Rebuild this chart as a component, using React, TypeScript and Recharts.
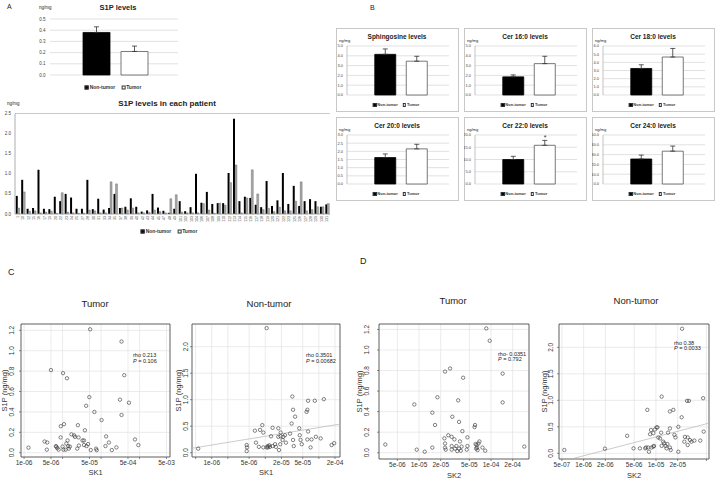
import React from 'react';
import {
  BarChart, Bar, Cell, XAxis, YAxis, CartesianGrid, ErrorBar, ReferenceDot,
  ReferenceLine, ReferenceArea, ScatterChart, Scatter,
} from 'recharts';

const FONT = '"Liberation Sans", Arial, sans-serif';

const groups = ['Non-tumor', 'Tumor'];

// A, top: mean S1P
const s1pMean = [0.38, 0.21];
const s1pSem = [0.05, 0.048];
const s1pTicks = [0, 0.1, 0.2, 0.3, 0.4, 0.5];

// A, bottom: S1P per patient
const patientIds = [
  '1', '10', '12', '15', '16', '17', '19', '20', '22', '23',
  '24', '25', '27', '28', '30', '31', '33', '34', '35', '37',
  '38', '39', '40', '42', '43', '44', '45', '47', '48', '49',
  '101', '102', '103', '104', '106', '107', '108', '109', '110', '112',
  '113', '114', '115', '116', '117', '118', '119', '120', '121', '122',
  '123', '125', '126', '127', '128', '129', '130', '131',
];
const patientNonTumor = [
  0.45, 0.85, 0.13, 0.15, 1.10, 0.13, 0.12, 0.43, 0.32, 0.50,
  0.41, 0.13, 0.13, 0.85, 0.12, 0.38, 0.11, 0.15, 0.50, 0.15,
  0.18, 0.39, 0.18, 0.06, 0.09, 0.50, 0.16, 0.08, 0.03, 0.13,
  0.32, 0.07, 0.17, 1.00, 0.28, 0.55, 0.25, 0.27, 0.27, 1.02,
  2.37, 0.32, 0.43, 0.40, 0.23, 0.17, 0.82, 0.20, 0.34, 1.02,
  0.25, 0.70, 0.20, 0.32, 0.37, 0.32, 0.18, 0.24,
];
const patientTumor = [
  0.15, 0.55, 0.07, 0.08, 0.03, 0.05, 0.07, 0.02, 0.53, 0.05,
  0.03, 0.02, 0.02, 0.10, 0.08, 0.03, 0.03, 0.80, 0.75, 0.15,
  0.10, 0.15, 0.03, 0.03, 0.04, 0.10, 0.06, 0.03, 0.38, 0.48,
  0.05, 0.03, 0.03, 0.03, 0.26, 0.10, 0.02, 0.27, 0.22, 0.78,
  1.22, 0.03, 0.40, 1.10, 0.50, 0.11, 0.14, 0.06, 0.17, 0.08,
  0.08, 0.32, 0.80, 0.08, 0.11, 0.18, 0.18, 0.26,
];
const patientTicks = [0, 0.5, 1, 1.5, 2, 2.5];

// B: sphingolipid means
const lipidTitles = ['Sphingosine levels', 'Cer 16:0 levels', 'Cer 18:0 levels', 'Cer 20:0 levels', 'Cer 22:0 levels', 'Cer 24:0 levels'];
const lipidMeans = [[4.15, 3.45], [1.85, 3.2], [3.25, 4.65], [1.62, 2.15], [10.0, 15.8], [25.5, 33.5]];
const lipidSems = [[0.55, 0.5], [0.2, 0.75], [0.45, 1.05], [0.22, 0.28], [1.3, 2.0], [4.0, 5.2]];
const lipidTicks = [
  [0, 1, 2, 3, 4, 5],
  [0, 1, 2, 3, 4, 5],
  [0, 1, 2, 3, 4, 5, 6],
  [0, 0.5, 1, 1.5, 2, 2.5, 3],
  [0, 5, 10, 15, 20],
  [0, 10, 20, 30, 40, 50],
];
const lipidSig = [false, false, false, false, true, false];

// C: SK1 vs S1P
const sk1Tumor = [
  1.3e-6, 3.4e-6, 4.0e-6, 3.9e-6, 5.0e-6, 6.7e-6, 6.9e-6, 7.3e-6, 7.9e-6, 8.9e-6,
  9.0e-6, 1.0e-5, 1.03e-5, 1.3e-5, 1.09e-5, 1.05e-5, 1.2e-5, 1.25e-5, 1.35e-5, 1.4e-5,
  1.45e-5, 1.55e-5, 1.7e-5, 2.0e-5, 2.1e-5, 2.5e-5, 2.6e-5, 2.4e-5, 2.65e-5, 3.3e-5,
  3.6e-5, 3.8e-5, 4.1e-5, 3.6e-5, 4.2e-5, 4.6e-5, 4.95e-5, 5.4e-5, 6.7e-5, 7.4e-5,
  7.7e-5, 1.03e-4, 1.3e-4, 1.35e-4, 1.6e-4, 1.9e-4, 2.5e-4, 3.1e-4, 3.4e-4, 3.4e-4,
  5.2e-5, 4.0e-4, 5.3e-4, 7.6e-4, 9.3e-4,
];
const s1pTumorC = [
  0.05, 0.11, 0.10, 0.03, 0.81, 0.065, 0.058, 0.045, 0.03, 0.15,
  0.26, 0.06, 0.78, 0.73, 0.28, 0.03, 0.03, 0.09, 0.12, 0.065,
  0.04, 0.06, 0.18, 0.17, 0.155, 0.27, 0.15, 0.04, 0.07, 0.12,
  0.12, 0.22, 0.46, 0.075, 0.065, 0.085, 0.545, 0.026, 0.40, 0.04,
  0.025, 0.32, 0.065, 0.16, 0.10, 0.026, 0.052, 0.52, 0.37, 1.09,
  1.21, 0.76, 0.49, 0.13, 0.075,
];
const sk1NonTumor = [
  5.6e-7, 4.5e-6, 4.55e-6, 4.5e-6, 6.4e-6, 6.7e-6, 8.0e-6, 8.8e-6, 9.2e-6, 7.6e-6,
  9.2e-6, 1.06e-5, 1.11e-5, 1.12e-5, 1.19e-5, 1.22e-5, 1.28e-5, 1.37e-5, 1.37e-5, 1.52e-5,
  1.58e-5, 1.75e-5, 1.75e-5, 1.94e-5, 1.92e-5, 1.9e-5, 1.8e-5, 2.1e-5, 2.17e-5, 2.33e-5,
  2.43e-5, 2.9e-5, 3.1e-5, 3.2e-5, 3.3e-5, 3.6e-5, 3.3e-5, 3.4e-5, 4.3e-5, 4.4e-5,
  4.55e-5, 4.8e-5, 5.9e-5, 6.1e-5, 6.3e-5, 6.1e-5, 6.3e-5, 7.0e-5, 7.3e-5, 8.4e-5,
  8.8e-5, 1.08e-4, 1.24e-4, 1.73e-4, 1.93e-4, 1.06e-5,
];
const s1pNonTumorC = [
  0.076, 0.145, 0.10, 0.03, 0.415, 0.19, 0.43, 0.52, 0.38, 0.11,
  0.10, 0.10, 0.125, 0.10, 0.14, 0.11, 0.31, 0.47, 0.125, 0.16,
  0.11, 0.30, 0.46, 0.38, 0.31, 0.16, 0.05, 0.24, 0.30, 0.33,
  0.19, 0.36, 0.55, 1.06, 0.81, 0.68, 0.24, 0.125, 0.46, 0.33,
  0.24, 0.16, 0.77, 0.81, 0.98, 0.25, 0.40, 0.10, 0.25, 0.98,
  0.30, 0.27, 1.01, 0.145, 0.18, 2.35,
];
const fitNonTumorC: [number, number][] = [[4.29e-7, 0.084], [2.48e-4, 0.54]];

// D: SK2 vs S1P
const sk2Tumor = [
  3.4e-6, 8.6e-6, 9.3e-6, 1.2e-5, 1.53e-5, 1.53e-5, 1.67e-5, 1.8e-5, 2.3e-5, 2.25e-5,
  2.3e-5, 2.3e-5, 2.35e-5, 2.7e-5, 2.55e-5, 2.84e-5, 2.84e-5, 2.9e-5, 2.84e-5, 3.16e-5,
  3.1e-5, 3.3e-5, 3.4e-5, 3.5e-5, 3.6e-5, 3.7e-5, 3.6e-5, 3.9e-5, 4.1e-5, 4.0e-5,
  3.8e-5, 4.7e-5, 4.7e-5, 4.6e-5, 5.9e-5, 6.0e-5, 6.1e-5, 6.2e-5, 6.3e-5, 6.4e-5,
  6.5e-5, 6.7e-5, 6.9e-5, 7.6e-5, 8.3e-5, 9.6e-5, 8.6e-5, 1.45e-4, 1.45e-4, 2.9e-4,
];
const s1pTumorD = [
  0.08, 0.47, 0.03, 0.01, 0.39, 0.05, 0.27, 0.54, 0.79, 0.14,
  0.09, 0.05, 0.03, 0.82, 0.17, 0.155, 0.065, 0.35, 0.03, 0.04,
  0.13, 0.065, 0.016, 0.51, 0.30, 0.11, 0.04, 0.06, 0.73, 0.21,
  0.02, 0.15, 0.065, 0.03, 0.25, 0.27, 0.085, 0.04, 0.075, 0.05,
  0.026, 0.09, 0.11, 0.05, 0.02, 1.09, 1.21, 0.77, 0.49, 0.06,
];
const sk2NonTumor = [
  5.4e-7, 1.97e-6, 4.0e-6, 4.9e-6, 6.0e-6, 7.1e-6, 7.3e-6, 7.6e-6, 7.8e-6, 8.0e-6,
  8.3e-6, 8.55e-6, 9.2e-6, 8.7e-6, 9.2e-6, 9.7e-6, 1.02e-5, 1.05e-5, 9.4e-6, 1.08e-5,
  1.14e-5, 1.18e-5, 1.2e-5, 1.2e-5, 1.26e-5, 1.3e-5, 1.36e-5, 1.4e-5, 1.44e-5, 1.47e-5,
  1.56e-5, 1.56e-5, 1.56e-5, 1.6e-5, 1.74e-5, 1.8e-5, 1.86e-5, 2.04e-5, 2.04e-5, 2.27e-5,
  2.52e-5, 2.47e-5, 2.69e-5, 2.86e-5, 2.75e-5, 2.75e-5, 2.96e-5, 3.1e-5, 3.4e-5, 4.1e-5,
  4.5e-5, 4.57e-5, 2.3e-5,
];
const s1pNonTumorD = [
  0.063, 0.088, 0.33, 0.094, 0.094, 0.094, 0.11, 0.82, 0.11, 0.03,
  0.36, 0.44, 0.38, 0.11, 0.126, 0.45, 0.49, 0.49, 0.14, 0.30,
  0.28, 0.39, 0.14, 1.07, 0.22, 0.19, 0.14, 0.094, 0.176, 0.39,
  0.47, 0.79, 0.11, 0.063, 0.82, 0.35, 0.30, 0.50, 0.03, 0.68,
  0.31, 0.22, 0.99, 0.99, 0.30, 0.157, 0.25, 0.22, 0.24, 0.24,
  1.04, 0.41, 2.35,
];
const fitNonTumorD: [number, number][] = [[4.56e-7, -0.167], [5.42e-5, 0.57]];

const fmt1 = (v: number) => v.toFixed(1);
const sci = (v: number) => {
  const [m, e] = v.toExponential(0).split('e');
  const n = Number(e);
  return `${m}e${n < 0 ? '-' : '+'}${String(Math.abs(n)).padStart(2, '0')}`;
};

function Txt({ x, y, size, bold, center, children }: any) {
  return (
    <div style={{
      position: 'absolute', left: x, top: y, fontSize: size, lineHeight: 1,
      fontWeight: bold ? 700 : 400, whiteSpace: 'nowrap', color: '#222',
      transform: `translate(${center ? '-50%' : '0'}, -50%)`,
    }}>{children}</div>
  );
}

function GroupLegend({ x, y, size, sq }: any) {
  return (
    <div style={{
      position: 'absolute', left: x, top: y, transform: 'translate(-50%, -50%)',
      fontSize: size, lineHeight: 1, whiteSpace: 'nowrap', display: 'flex',
      alignItems: 'center', gap: size * 1.2, color: '#333', fontWeight: 600,
    }}>
      {groups.map((g, i) => (
        <span key={g} style={{ display: 'flex', alignItems: 'center' }}>
          <span style={{
            width: sq, height: sq, boxSizing: 'border-box', marginRight: 1,
            background: i === 0 ? '#000' : '#fff', border: '0.6px solid #333',
          }} />
          {g}
        </span>
      ))}
    </div>
  );
}

function MeanBars({ left, top, width, height, margin, yWidth, ticks, means, sems, pad, barSize, tickFont, axisLine, sig }: any) {
  const data = groups.map((g, i) => ({ g, v: means[i], e: [0, sems[i]] }));
  const max = ticks[ticks.length - 1];
  return (
    <div style={{ position: 'absolute', left, top }}>
      <BarChart width={width} height={height} data={data} margin={margin}>
        <CartesianGrid vertical={false} stroke="#d4d4d4" strokeWidth={0.7} />
        <XAxis dataKey="g" hide padding={pad} />
        <YAxis
          width={yWidth} domain={[0, max]} ticks={ticks} interval={0}
          tickFormatter={fmt1} tick={{ fontSize: tickFont, fill: '#444' }}
          tickLine={false} tickSize={0} tickMargin={tickFont}
          axisLine={axisLine ? { stroke: '#aaa', strokeWidth: 0.7 } : false}
        />
        <Bar dataKey="v" barSize={barSize} isAnimationActive={false}>
          {data.map((d, i) => (
            <Cell key={d.g} fill={i === 0 ? '#000' : '#fff'} stroke={i === 0 ? '#000' : '#555'} strokeWidth={0.8} />
          ))}
          <ErrorBar dataKey="e" width={2.5} stroke="#333" strokeWidth={0.8} />
        </Bar>
        {sig && (
          <ReferenceDot
            x="Tumor" y={means[1] + sems[1]} r={0} stroke="none"
            label={{ value: '*', position: 'top', offset: 0, fontSize: 7, fill: '#333' }}
          />
        )}
      </BarChart>
    </div>
  );
}

function IdTick(props: any) {
  const { x, y, payload } = props;
  return (
    <text x={x} y={y} transform={`rotate(-90 ${x} ${y})`} textAnchor="end" dominantBaseline="central" fontSize={3.6} fill="#444">
      {payload.value}
    </text>
  );
}

function PatientChart() {
  const data = patientIds.map((id, i) => ({ id, nt: patientNonTumor[i], t: patientTumor[i] }));
  return (
    <div style={{ position: 'absolute', left: 0, top: 108 }}>
      <BarChart width={336} height={120} data={data} margin={{ top: 5.5, right: 6, bottom: 0, left: 0 }} barCategoryGap="14%" barGap={0}>
        <XAxis dataKey="id" interval={0} height={14} tickLine={false} tickSize={0} tickMargin={2} axisLine={{ stroke: '#999', strokeWidth: 0.8 }} tick={<IdTick />} />
        <YAxis domain={[0, 2.5]} ticks={patientTicks} interval={0} width={15} tickLine={false} tickSize={0} tickMargin={4} axisLine={{ stroke: '#999', strokeWidth: 0.8 }} tick={{ fontSize: 4.5, fill: '#444' }} tickFormatter={fmt1} />
        <ReferenceLine y={2.5} stroke="#bbb" strokeWidth={0.8} />
        <Bar dataKey="nt" fill="#000" isAnimationActive={false} />
        <Bar dataKey="t" fill="#a6a6a6" stroke="#444" strokeWidth={0.3} isAnimationActive={false} />
      </BarChart>
    </div>
  );
}

function VTick(props: any) {
  const { x, y, payload, shift } = props;
  const cx = x - shift;
  return (
    <text x={cx} y={y} transform={`rotate(-90 ${cx} ${y})`} textAnchor="middle" dominantBaseline="central" fontSize={6.5} fill="#333" fontFamily={FONT}>
      {fmt1(payload.value)}
    </text>
  );
}

function LogScatter({ left, top, width, height, yWidth, marginTop, xHeight, xDomain, yDomain, xTicks, xLabelled, yTicks, sk, s1p, xName, yTickShift, yLabelOffset, xLabelOffset, fit }: any) {
  const pts = sk.map((x: number, i: number) => ({ x, y: s1p[i] }));
  return (
    <div style={{ position: 'absolute', left, top }}>
      <ScatterChart width={width} height={height} margin={{ top: marginTop, right: 6, bottom: 0, left: 0 }}>
        <CartesianGrid stroke="#e2e2e2" strokeWidth={0.7} />
        <XAxis
          type="number" dataKey="x" scale="log" domain={xDomain} allowDataOverflow ticks={xTicks} interval={0}
          tickFormatter={(v: number) => (xLabelled.includes(v) ? sci(v) : '')}
          height={xHeight} axisLine={false} tickSize={2} tickMargin={1}
          tickLine={{ stroke: '#444', strokeWidth: 0.6 }} tick={{ fontSize: 6.5, fill: '#333' }}
          label={{ value: xName, position: 'insideBottom', offset: xLabelOffset, style: { fontSize: 7.5, fill: '#333' } }}
        />
        <YAxis
          type="number" dataKey="y" domain={yDomain} allowDataOverflow ticks={yTicks} interval={0}
          width={yWidth} axisLine={false} tickSize={2} tickLine={{ stroke: '#444', strokeWidth: 0.6 }}
          tick={(p: any) => <VTick {...p} shift={yTickShift} />}
          label={{ value: 'S1P (ng/mg)', angle: -90, position: 'insideLeft', offset: yLabelOffset, style: { fontSize: 7.5, fill: '#333', textAnchor: 'middle' } }}
        />
        <ReferenceArea x1={xDomain[0]} x2={xDomain[1]} y1={yDomain[0]} y2={yDomain[1]} fill="none" stroke="#444" strokeWidth={0.8} ifOverflow="visible" />
        {fit && (
          <ReferenceLine segment={fit.map(([x, y]: [number, number]) => ({ x, y }))} stroke="#b5b5b5" strokeWidth={0.7} ifOverflow="hidden" />
        )}
        <Scatter
          data={pts} isAnimationActive={false}
          shape={(p: any) => <circle cx={p.cx} cy={p.cy} r={1.7} fill="none" stroke="#333" strokeWidth={0.6} />}
        />
      </ScatterChart>
    </div>
  );
}

const colLefts = [336, 464, 592];
const rowTops = [28, 117];

function LipidBox({ i }: { i: number }) {
  const L = colLefts[i % 3];
  const T = rowTops[Math.floor(i / 3)];
  return (
    <>
      <div style={{ position: 'absolute', left: L, top: T, width: 123, height: 84, boxSizing: 'border-box', border: '1px solid #c8c8c8' }} />
      <Txt x={L + 61} y={T + 8.5} size={6.5} bold center>{lipidTitles[i]}</Txt>
      <Txt x={L + 3} y={T + 12.5} size={4}>ng/mg</Txt>
      <MeanBars
        left={L} top={T + 14} width={118} height={56}
        margin={{ top: 4, right: 5, bottom: 3, left: 0 }} yWidth={11}
        ticks={lipidTicks[i]} means={lipidMeans[i]} sems={lipidSems[i]}
        pad={{ left: 22.75, right: 16.25 }} barSize={21} tickFont={4} axisLine sig={lipidSig[i]}
      />
      <GroupLegend x={L + 60} y={T + 77} size={4} sq={3.5} />
    </>
  );
}

export default function App() {
  return (
    <div style={{ position: 'absolute', left: 0, top: 0, width: 716, height: 479, background: '#fff', fontFamily: FONT, color: '#222', overflow: 'hidden' }}>
      {/* A */}
      <Txt x={7} y={6} size={7}>A</Txt>
      <Txt x={39} y={8} size={4.5}>ng/mg</Txt>
      <Txt x={118} y={8} size={7.5} bold center>S1P levels</Txt>
      <MeanBars
        left={18} top={12} width={166} height={68}
        margin={{ top: 7, right: 6, bottom: 5, left: 0 }} yWidth={32}
        ticks={s1pTicks} means={s1pMean} sems={s1pSem}
        pad={{ left: 27, right: 25 }} barSize={27} tickFont={4.5} axisLine={false} sig={false}
      />
      <GroupLegend x={113} y={87} size={5} sq={4} />
      <Txt x={7} y={104} size={4.5}>ng/mg</Txt>
      <Txt x={167} y={103.5} size={8} bold center>S1P levels in each patient</Txt>
      <PatientChart />
      <GroupLegend x={169} y={231} size={5} sq={4} />

      {/* B */}
      <Txt x={370} y={7} size={7}>B</Txt>
      {lipidTitles.map((t, i) => <LipidBox key={t} i={i} />)}

      {/* C */}
      <Txt x={8} y={272} size={9}>C</Txt>
      <Txt x={95} y={304} size={9.5} center>Tumor</Txt>
      <Txt x={269} y={304} size={9.5} center>Non-tumor</Txt>
      <LogScatter
        left={0} top={316} width={176} height={163} yWidth={21} marginTop={8} xHeight={22}
        xDomain={[8.32e-7, 6.17e-3]} yDomain={[-0.042, 1.262]}
        xTicks={[1e-6, 5e-6, 1e-5, 5e-5, 1e-4, 5e-4, 1e-3, 5e-3]} xLabelled={[1e-6, 5e-6, 5e-5, 5e-4, 5e-3]}
        yTicks={[0, 0.2, 0.4, 0.6, 0.8, 1.0, 1.2]} sk={sk1Tumor} s1p={s1pTumorC} xName="SK1"
        yTickShift={5} yLabelOffset={4} xLabelOffset={4}
      />
      <LogScatter
        left={172} top={316} width={174} height={163} yWidth={20} marginTop={8} xHeight={22}
        xDomain={[4.29e-7, 2.48e-4]} yDomain={[-0.081, 2.428]}
        xTicks={[5e-7, 1e-6, 2e-6, 5e-6, 1e-5, 2e-5, 5e-5, 1e-4, 2e-4]} xLabelled={[1e-6, 5e-6, 2e-5, 5e-5, 2e-4]}
        yTicks={[0, 0.5, 1.0, 1.5, 2.0]} sk={sk1NonTumor} s1p={s1pNonTumorC} xName="SK1"
        yTickShift={2} yLabelOffset={6} xLabelOffset={4} fit={fitNonTumorC}
      />
      <Txt x={133} y={356} size={5.5}>rho 0.213</Txt>
      <Txt x={133} y={361.5} size={5.5}><i>P</i> = 0.106</Txt>
      <Txt x={306} y={356} size={5.5}>rho 0.3501</Txt>
      <Txt x={306} y={361.5} size={5.5}><i>P</i> = 0.00682</Txt>

      {/* D */}
      <Txt x={360} y={261} size={9}>D</Txt>
      <Txt x={453} y={301} size={9.5} center>Tumor</Txt>
      <Txt x={636} y={301} size={9.5} center>Non-tumor</Txt>
      <LogScatter
        left={355} top={316} width={180} height={163} yWidth={24} marginTop={8} xHeight={20}
        xDomain={[2.78e-6, 3.37e-4]} yDomain={[-0.061, 1.253]}
        xTicks={[5e-6, 1e-5, 2e-5, 5e-5, 1e-4, 2e-4]} xLabelled={[5e-6, 1e-5, 2e-5, 5e-5, 1e-4, 2e-4]}
        yTicks={[0, 0.2, 0.4, 0.6, 0.8, 1.0, 1.2]} sk={sk2Tumor} s1p={s1pTumorD} xName="SK2"
        yTickShift={8} yLabelOffset={4} xLabelOffset={1.5}
      />
      <LogScatter
        left={538} top={316} width={177} height={163} yWidth={21} marginTop={8} xHeight={20}
        xDomain={[4.56e-7, 5.42e-5]} yDomain={[-0.107, 2.44]}
        xTicks={[5e-7, 1e-6, 2e-6, 5e-6, 1e-5, 2e-5, 5e-5]} xLabelled={[5e-7, 1e-6, 2e-6, 5e-6, 1e-5, 2e-5]}
        yTicks={[0, 0.5, 1.0, 1.5, 2.0]} sk={sk2NonTumor} s1p={s1pNonTumorD} xName="SK2"
        yTickShift={4} yLabelOffset={6} xLabelOffset={1.5} fit={fitNonTumorD}
      />
      <Txt x={498} y={354.5} size={5.5}>rho- 0.0351</Txt>
      <Txt x={498} y={360} size={5.5}><i>P</i> = 0.792</Txt>
      <Txt x={674} y={343.5} size={5.5}>rho 0.38</Txt>
      <Txt x={674} y={349} size={5.5}><i>P</i> = 0.0033</Txt>
    </div>
  );
}
